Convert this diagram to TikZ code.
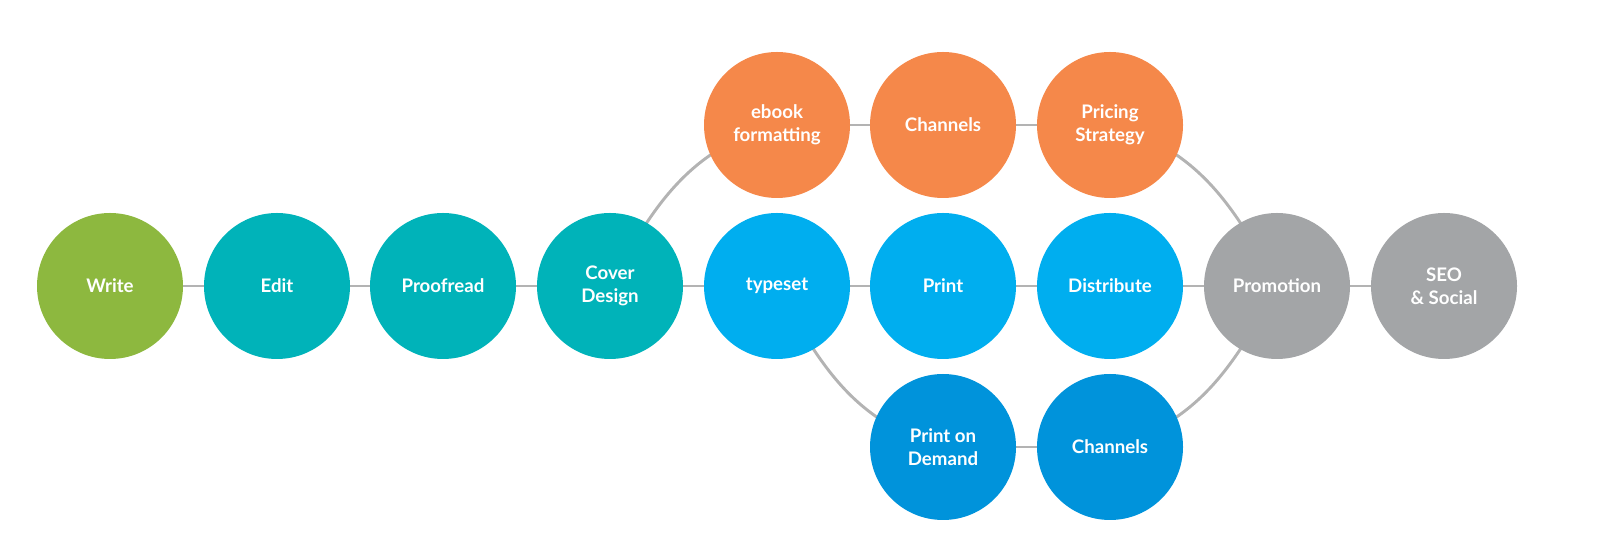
\documentclass[tikz,border=0pt]{standalone}
\usepackage{fontspec}
\setmainfont{Lato}
\usetikzlibrary{backgrounds}
\definecolor{cgreen}{HTML}{8DB83F}
\definecolor{corange}{HTML}{F5884A}
\definecolor{cteal}{HTML}{00B3B9}
\definecolor{cblue}{HTML}{00AEEF}
\definecolor{cdblue}{HTML}{0093DB}
\definecolor{cgray}{HTML}{A3A5A7}
\definecolor{cline}{HTML}{B3B3B3}
\begin{document}
\begin{tikzpicture}[x=0.75pt,y=0.75pt,
  st/.style={circle,minimum size=146*0.75pt,inner sep=0pt,text=white,align=center,
    font=\fontsize{14}{17}\selectfont\bfseries},
  ln/.style={draw=cline,line width=2.2pt}]
\useasboundingbox (0,0) rectangle (1602,556);
\node[st,fill=cgreen] (write) at (110,270) {Write};
\node[st,fill=cteal] (edit) at (277,270) {Edit};
\node[st,fill=cteal] (proof) at (443,270) {Proofread};
\node[st,fill=cteal] (cover) at (610,270) {Cover\\Design};
\node[st,fill=cblue] (typeset) at (777,270) {typeset};
\node[st,fill=cblue] (print) at (943,270) {Print};
\node[st,fill=cblue] (dist) at (1110,270) {Distribute};
\node[st,fill=cgray] (promo) at (1277,270) {Promotion};
\node[st,fill=cgray] (seo) at (1444,270) {SEO\\\& Social};
\node[st,fill=corange] (ebook) at (777,431) {ebook\\formatting};
\node[st,fill=corange] (chan1) at (943,431) {Channels};
\node[st,fill=corange] (price) at (1110,431) {Pricing\\Strategy};
\node[st,fill=cdblue] (pod) at (943,109) {Print on\\Demand};
\node[st,fill=cdblue] (chan2) at (1110,109) {Channels};
\begin{scope}[on background layer]
\draw[ln] (write) -- (edit) -- (proof) -- (cover) -- (typeset) -- (print) -- (dist) -- (promo) -- (seo);
\draw[ln] (ebook) -- (chan1) -- (price);
\draw[ln] (pod) -- (chan2);
\draw[ln] (cover.center) to[out=62,in=195] (ebook.center);
\draw[ln] (typeset.center) to[out=-62,in=165] (pod.center);
\draw[ln] (price.center) to[out=-15,in=118] (promo.center);
\draw[ln] (chan2.center) to[out=15,in=-118] (promo.center);
\end{scope}
\end{tikzpicture}
\end{document}
